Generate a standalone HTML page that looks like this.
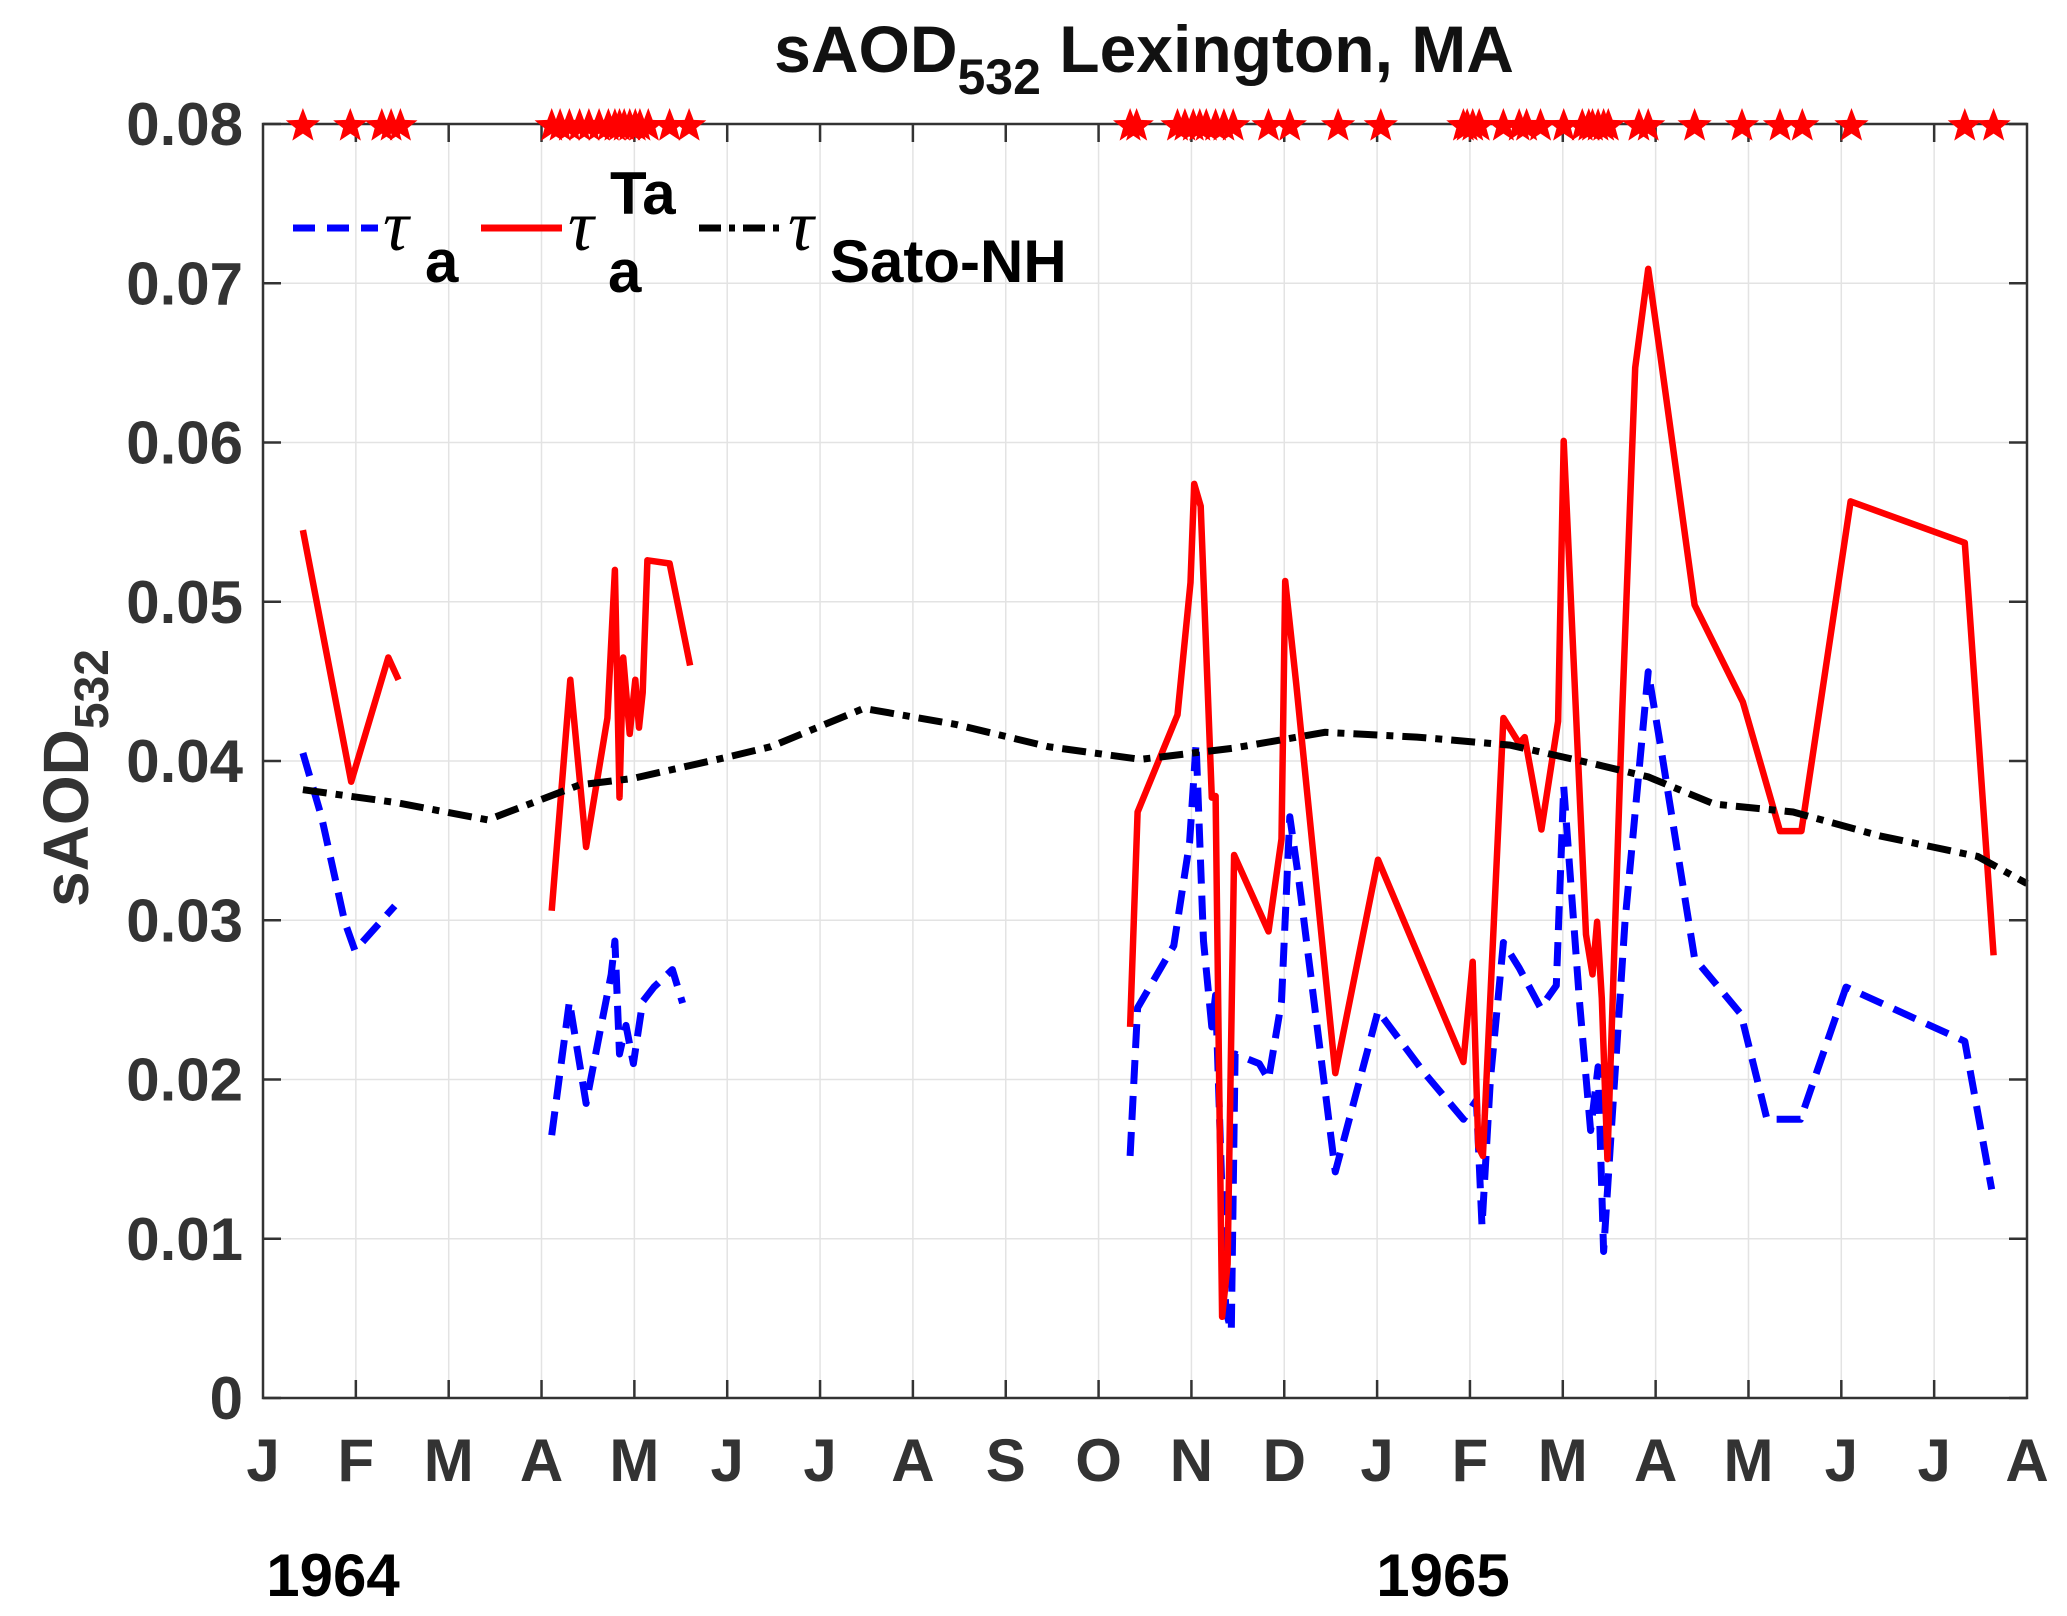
<!DOCTYPE html>
<html><head><meta charset="utf-8"><style>
html,body{margin:0;padding:0;background:#fff;}
svg{display:block;font-family:"Liberation Sans",Arial,sans-serif;font-weight:bold;}
</style></head><body>
<svg id="chart" width="2067" height="1616" viewBox="0 0 2067 1616" xmlns="http://www.w3.org/2000/svg">
<g id="grid"></g>
<g id="series"></g>
<rect x="263" y="124" width="1764" height="1274" fill="none" stroke="#333" stroke-width="2.5"/>
<g id="ticks"></g>
<g id="stars"></g>
<text x="1144" y="72" text-anchor="middle" font-size="66" fill="#111">sAOD<tspan font-size="50" dy="22">532</tspan><tspan dy="-22"> Lexington, MA</tspan></text>
<text transform="translate(88,778) rotate(-90)" text-anchor="middle" font-size="64" fill="#333">sAOD<tspan font-size="48" dy="20">532</tspan></text>
<text x="333" y="1596" text-anchor="middle" font-size="60" fill="#000">1964</text>
<text x="1443" y="1596" text-anchor="middle" font-size="60" fill="#000">1965</text>
<g font-size="60" fill="#000">
 <line x1="293" y1="228" x2="378" y2="228" stroke="#0000ff" stroke-width="7" stroke-dasharray="22,12"/>
 <text x="383" y="250" font-style="italic" font-weight="normal" font-family="Liberation Serif,serif" font-size="72">τ</text>
 <text x="425" y="282">a</text>
 <line x1="481" y1="228" x2="562" y2="228" stroke="#ff0000" stroke-width="7"/>
 <text x="568" y="250" font-style="italic" font-weight="normal" font-family="Liberation Serif,serif" font-size="72">τ</text>
 <text x="608" y="292">a</text>
 <text x="610" y="214">Ta</text>
 <line x1="699" y1="228" x2="780" y2="228" stroke="#000" stroke-width="7" stroke-dasharray="22,8,6,8"/>
 <text x="788" y="250" font-style="italic" font-weight="normal" font-family="Liberation Serif,serif" font-size="72">τ</text>
 <text x="830" y="282">Sato-NH</text>
</g>
</svg>
<script>
const monthLabels=["J","F","M","A","M","J","J","A","S","O","N","D","J","F","M","A","M","J","J","A"];
const yTicks=[0,0.01,0.02,0.03,0.04,0.05,0.06,0.07,0.08];
const yTickLabels=["0","0.01","0.02","0.03","0.04","0.05","0.06","0.07","0.08"];
// months since Jan 1964 ; null = gap
const tatM=[0.43,0.95,1.35,1.46,null,3.11,3.31,3.48,3.71,3.79,3.84,3.88,3.95,4.01,4.05,4.09,4.14,4.38,4.60,null,9.34,9.42,9.85,9.99,10.03,10.10,10.22,10.26,10.33,10.39,10.46,10.83,10.97,11.01,11.13,11.55,12.01,12.93,13.03,13.09,13.14,13.36,13.53,13.59,13.77,13.95,14.01,14.25,14.32,14.37,14.42,14.48,14.64,14.78,14.92,15.05,15.42,15.94,16.34,16.57,17.10,18.33,18.64];
const tatV=[0.0545,0.0387,0.0465,0.0451,null,0.0306,0.0451,0.0346,0.0427,0.0520,0.0377,0.0465,0.0417,0.0451,0.0421,0.0443,0.0526,0.0524,0.0460,null,0.0233,0.0368,0.0429,0.0512,0.0574,0.0560,0.0377,0.0378,0.0051,0.0084,0.0341,0.0293,0.0351,0.0513,0.0448,0.0204,0.0338,0.0211,0.0274,0.0158,0.0152,0.0427,0.0411,0.0415,0.0357,0.0425,0.0601,0.0291,0.0266,0.0299,0.0251,0.0150,0.0431,0.0647,0.0709,0.0655,0.0498,0.0437,0.0356,0.0356,0.0563,0.0537,0.0278];
const taM=[0.43,0.63,0.88,0.99,1.42,null,3.11,3.30,3.48,3.64,3.75,3.79,3.84,3.91,3.99,4.09,4.21,4.41,4.52,null,9.34,9.42,9.81,9.98,10.05,10.13,10.22,10.26,10.37,10.43,10.47,10.73,10.83,10.97,11.06,11.16,11.55,12.01,12.51,12.93,13.07,13.13,13.22,13.36,13.53,13.76,13.93,14.01,14.18,14.30,14.38,14.44,14.52,14.67,14.92,15.06,15.42,15.92,16.20,16.56,17.05,18.33,18.62];
const taV=[0.0405,0.0365,0.0299,0.0281,0.0309,null,0.0165,0.0249,0.0185,0.0233,0.0266,0.0287,0.0216,0.0234,0.0210,0.0249,0.0258,0.0269,0.0248,null,0.0152,0.0245,0.0284,0.0349,0.0411,0.0287,0.0233,0.0253,0.0055,0.0042,0.0216,0.0210,0.0200,0.0249,0.0365,0.0324,0.0142,0.0243,0.0204,0.0175,0.0187,0.0108,0.0200,0.0286,0.0270,0.0245,0.0259,0.0384,0.0249,0.0168,0.0208,0.0092,0.0166,0.0299,0.0456,0.0407,0.0276,0.0241,0.0175,0.0175,0.0258,0.0224,0.0131];
const satoM=[0.43,0.92,1.42,2.42,3.41,3.98,4.97,5.47,6.47,7.46,8.46,9.45,10.44,11.44,12.43,13.43,14.35,14.92,15.63,16.48,17.41,18.47,19.0];
const satoV=[0.0382,0.0378,0.0374,0.0363,0.0385,0.0389,0.0402,0.0409,0.0433,0.0423,0.0409,0.0401,0.0408,0.0418,0.0415,0.0410,0.0398,0.0390,0.0373,0.0368,0.0353,0.0340,0.0323];
const starM=[0.43,0.94,1.28,1.38,1.48,3.11,3.20,3.30,3.41,3.51,3.62,3.72,3.79,3.84,3.89,3.95,4.01,4.06,4.15,4.38,4.59,9.34,9.41,9.85,9.93,10.02,10.09,10.16,10.26,10.35,10.45,10.83,11.06,11.58,12.04,12.93,12.97,13.03,13.10,13.36,13.53,13.61,13.76,14.01,14.21,14.28,14.32,14.38,14.44,14.49,14.82,14.92,15.42,15.93,16.34,16.58,17.11,18.33,18.64];

const L=263,R=2027,T=124,B=1398,NS="http://www.w3.org/2000/svg";
const xS=m=>L+(R-L)*m/19;
const yS=v=>B-(B-T)*v/0.08;
function mk(tag,attrs,parent){const e=document.createElementNS(NS,tag);for(const k in attrs)e.setAttribute(k,attrs[k]);parent.appendChild(e);return e;}
const grid=document.getElementById('grid'),ticks=document.getElementById('ticks'),ser=document.getElementById('series'),stars=document.getElementById('stars');
monthLabels.forEach((lab,i)=>{
  const x=xS(i);
  if(i>0&&i<19){const g=mk('line',{x1:x,y1:T,x2:x,y2:B,stroke:'#e3e3e3','stroke-width':1.5},grid);
  
  
  const t1=mk('line',{x1:x,y1:B,x2:x,y2:B-18,stroke:'#333','stroke-width':2.5},ticks);
  
  
  const t2=mk('line',{x1:x,y1:T,x2:x,y2:T+18,stroke:'#333','stroke-width':2.5},ticks);
  
  }
  const t=mk('text',{x:x,y:1481,'text-anchor':'middle','font-size':60,fill:'#333'},ticks);
  t.textContent=lab;
  
  
});
yTicks.forEach((v,i)=>{
  const y=yS(v);
  if(i>0&&i<8){const g=mk('line',{x1:L,y1:y,x2:R,y2:y,stroke:'#e3e3e3','stroke-width':1.5},grid);
  
  }
  const t1=mk('line',{x1:L,y1:y,x2:L+18,y2:y,stroke:'#333','stroke-width':2.5},ticks);
  
  
  const t2=mk('line',{x1:R,y1:y,x2:R-18,y2:y,stroke:'#333','stroke-width':2.5},ticks);
  
  
  const t=mk('text',{x:243,y:y+21,'text-anchor':'end','font-size':60,fill:'#333'},ticks);
  t.textContent=yTickLabels[i];
  
  
});
function pathD(ms,vs){let d='',pen=false;for(let i=0;i<ms.length;i++){if(ms[i]===null){pen=false;continue;}d+=(pen?'L':'M')+xS(ms[i]).toFixed(1)+','+yS(vs[i]).toFixed(1);pen=true;}return d;}
const pb=mk('path',{d:pathD(taM,taV),fill:'none',stroke:'#0000ff','stroke-width':7,'stroke-dasharray':'24,12','stroke-linejoin':'round'},ser);


const pr=mk('path',{d:pathD(tatM,tatV),fill:'none',stroke:'#ff0000','stroke-width':6.5,'stroke-linejoin':'round'},ser);


const pk=mk('path',{d:pathD(satoM,satoV),fill:'none',stroke:'#000','stroke-width':7,'stroke-dasharray':'24,9,7,9'},ser);


function starPts(cx,cy,r){let p=[];for(let k=0;k<10;k++){const a=-Math.PI/2+k*Math.PI/5,rr=k%2?r*0.42:r;p.push((cx+rr*Math.cos(a)).toFixed(1)+','+(cy+rr*Math.sin(a)).toFixed(1));}return p.join(' ');}
starM.forEach(m=>{
  const s=mk('polygon',{points:starPts(xS(m),yS(0.08)+2,18),fill:'#ff0000'},stars);
  
  
});
</script>
</body></html>
